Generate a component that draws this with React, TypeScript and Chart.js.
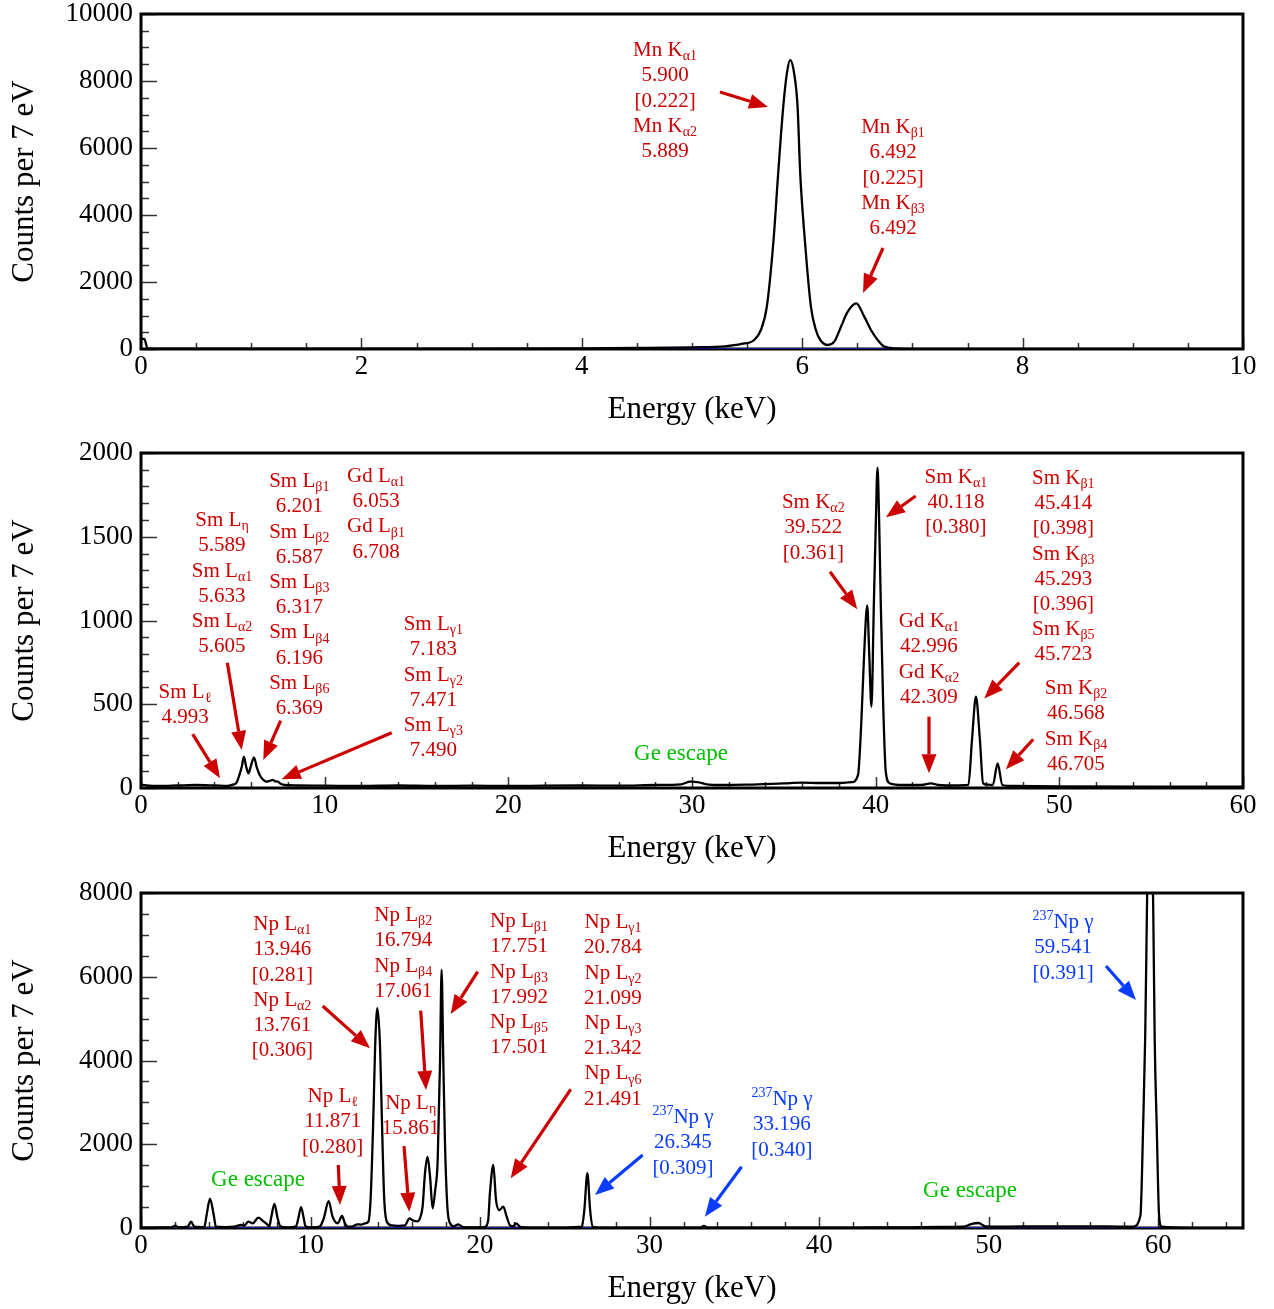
import React, { useEffect, useRef } from 'react';
import { Chart, registerables } from 'chart.js';
Chart.register(...registerables);

const RED = '#cc0000';
const BLUE = '#0a3cff';
const GREEN = '#00c000';
const FIT = '#1a1a8c';
const FONT = '"Liberation Serif", "Times New Roman", serif';

// ---------- Panel 1: Mn K lines ----------
const mnEnergy = [
  0, 0.03, 0.06, 0.5, 1, 2, 3, 4, 4.5, 5,
  5.3, 5.45, 5.564, 5.625, 5.679, 5.74, 5.782, 5.828, 5.861, 5.891,
  5.927, 5.958, 5.982, 6.024, 6.079, 6.124, 6.164, 6.231, 6.291, 6.352,
  6.413, 6.491, 6.563, 6.624, 6.685, 6.745, 6.85, 7, 8.5, 10,
];
const mnCounts = [
  300, 300, 15, 12, 10, 10, 12, 20, 30, 50,
  80, 150, 269, 567, 1264, 3254, 5244, 7234, 8229, 8627,
  8229, 7234, 5244, 3254, 1264, 567, 269, 120, 219, 666,
  1115, 1364, 965, 567, 269, 70, 15, 5, 5, 5,
];
const mnFitEnergy = [4.6, 6.8];
const mnFitCounts = [0, 0];

// ---------- Panel 2: Sm / Gd ----------
const smEnergy = [
  0, 0.3, 1, 2, 3, 4, 4.73, 5.0, 5.18, 5.36,
  5.49, 5.6, 5.72, 5.85, 5.98, 6.15, 6.3, 6.46, 6.65, 6.82,
  7.0, 7.18, 7.3, 7.45, 7.6, 7.82, 8.5, 10, 12, 14,
  16, 18, 20, 22, 24, 26, 28, 29.4, 29.9, 30.3,
  30.8, 31.5, 33, 35, 36, 37, 38, 38.7, 39.04, 39.22,
  39.37, 39.54, 39.65, 39.77, 39.9, 40.01, 40.1, 40.19, 40.28, 40.41,
  40.55, 40.77, 41.5, 42.5, 43.0, 43.4, 44.5, 45.05, 45.25, 45.46,
  45.67, 45.85, 46.1, 46.38, 46.64, 46.9, 47.5, 50, 55, 60,
];
const smCounts = [
  20, 15, 12, 15, 18, 15, 12, 20, 28, 78,
  128, 187, 130, 88, 130, 183, 125, 78, 50, 38,
  42, 48, 40, 38, 25, 18, 15, 14, 12, 15,
  12, 14, 12, 14, 15, 14, 18, 22, 38, 35,
  22, 18, 20, 28, 32, 30, 30, 35, 78, 396,
  794, 1090, 800, 485, 1093, 1590, 1912, 1590, 1093, 496,
  97, 28, 18, 18, 28, 18, 15, 18, 296, 545,
  296, 28, 20, 18, 147, 18, 12, 10, 8, 8,
];
const smFitEnergy: number[] = [];
const smFitCounts: number[] = [];

// ---------- Panel 3: Np L lines / 237Np gamma ----------
const npEnergy = [
  0, 1, 1.8, 2.03, 2.2, 2.75, 2.95, 3.15, 3.6, 3.74,
  3.87, 4.07, 4.29, 4.42, 5.0, 5.5, 5.9, 6.1, 6.33, 6.59,
  6.92, 7.24, 7.48, 7.57, 7.67, 7.87, 8.06, 8.22, 8.55, 9.14,
  9.28, 9.44, 9.6, 9.7, 10.0, 10.4, 10.6, 10.78, 11.07, 11.3,
  11.6, 11.86, 12.03, 12.2, 12.5, 12.76, 13.0, 13.2, 13.41, 13.55,
  13.71, 13.81, 13.94, 14.1, 14.2, 14.34, 14.5, 14.8, 15.2, 15.57,
  15.83, 16.06, 16.3, 16.45, 16.61, 16.75, 16.9, 17.05, 17.2, 17.35,
  17.5, 17.64, 17.73, 17.83, 17.93, 18.07, 18.23, 18.45, 18.72, 19.0,
  19.5, 20.0, 20.3, 20.48, 20.58, 20.78, 20.94, 21.14, 21.37, 21.57,
  21.77, 21.95, 22.12, 22.4, 23, 24, 25, 26.0, 26.15, 26.33,
  26.49, 26.65, 27, 29, 31, 33.0, 33.2, 33.4, 36, 40,
  43, 45, 47, 48.5, 49.0, 49.4, 49.8, 51, 53, 55,
  57, 58.5, 58.95, 59.11, 59.23, 59.33, 59.5, 59.71, 59.79, 59.91,
  60.05, 60.2, 62, 65,
];
const npCounts = [
  10, 12, 15, 56, 15, 30, 151, 30, 20, 30,
  310, 700, 310, 30, 20, 30, 72, 60, 151, 111,
  247, 151, 72, 40, 230, 573, 230, 40, 16, 40,
  230, 500, 230, 40, 16, 20, 60, 230, 640, 270,
  111, 286, 111, 32, 40, 88, 80, 111, 150, 748,
  2738, 4331, 5250, 4331, 2738, 748, 150, 60, 50, 60,
  231, 175, 160, 230, 509, 1313, 1700, 1226, 470, 900,
  1624, 4012, 6161, 4012, 2030, 509, 112, 40, 88, 20,
  15, 15, 30, 190, 828, 1504, 668, 430, 509, 270,
  60, 40, 112, 20, 10, 10, 10, 30, 430, 1310,
  430, 30, 10, 10, 10, 10, 50, 10, 8, 8,
  12, 15, 25, 30, 100, 120, 40, 35, 40, 40,
  40, 30, 300, 2445, 4540, 7475, 11500, 7475, 4540, 2445,
  300, 30, 5, 5,
];
const npFitEnergy = [0, 60];
const npFitCounts = [0, 0];

// ---------- Annotations (anchor in data coords: energy, counts) ----------
type Note = { e: number; c: number; lines: string[]; color?: string; size?: number; arrow?: number[] };

const mnNotes: Note[] = [
  { e: 4.755, c: 8955, lines: ['Mn K_{α1}', '5.900', '[0.222]', 'Mn K_{α2}', '5.889'], arrow: [5.254, 7672, 5.69, 7224] },
  { e: 6.824, c: 6657, lines: ['Mn K_{β1}', '6.492', '[0.225]', 'Mn K_{β3}', '6.492'], arrow: [6.733, 3015, 6.552, 1672] },
];

const smNotes: Note[] = [
  { e: 2.396, c: 579, lines: ['Sm L_{ℓ}', '4.993'], arrow: [2.815, 322, 4.301, 58] },
  { e: 4.41, c: 1606, lines: ['Sm L_{η}', '5.589', 'Sm L_{α1}', '5.633', 'Sm L_{α2}', '5.605'], arrow: [4.699, 748, 5.483, 227] },
  { e: 8.619, c: 1839, lines: ['Sm L_{β1}', '6.201', 'Sm L_{β2}', '6.587', 'Sm L_{β3}', '6.317', 'Sm L_{β4}', '6.196', 'Sm L_{β6}', '6.369'], arrow: [7.606, 402, 6.659, 167] },
  { e: 12.795, c: 1869, lines: ['Gd L_{α1}', '6.053', 'Gd L_{β1}', '6.708'] },
  { e: 15.914, c: 985, lines: ['Sm L_{γ1}', '7.183', 'Sm L_{γ2}', '7.471', 'Sm L_{γ3}', '7.490'], arrow: [13.65, 330, 7.66, 52] },
  { e: 29.4, c: 215, lines: ['Ge escape'], color: GREEN, size: 23 },
  { e: 36.604, c: 1713, lines: ['Sm K_{α2}', '39.522', '[0.361]'], arrow: [37.513, 1291, 39.0, 1067] },
  { e: 44.373, c: 1863, lines: ['Sm K_{α1}', '40.118', '[0.380]'], arrow: [42.18, 1743, 40.56, 1616] },
  { e: 42.903, c: 1003, lines: ['Gd K_{α1}', '42.996', 'Gd K_{α2}', '42.309'], arrow: [42.903, 426, 42.903, 88] },
  { e: 50.215, c: 1857, lines: ['Sm K_{β1}', '45.414', '[0.398]', 'Sm K_{β3}', '45.293', '[0.396]', 'Sm K_{β5}', '45.723'], arrow: [47.82, 748, 45.913, 535] },
  { e: 50.906, c: 603, lines: ['Sm K_{β2}', '46.568', 'Sm K_{β4}', '46.705'], arrow: [48.58, 291, 47.095, 112] },
];

const npNotes: Note[] = [
  { e: 8.334, c: 7284, lines: ['Np L_{α1}', '13.946', '[0.281]', 'Np L_{α2}', '13.761', '[0.306]'], arrow: [10.717, 5302, 13.507, 4291] },
  { e: 15.471, c: 7499, lines: ['Np L_{β2}', '16.794', 'Np L_{β4}', '17.061'], arrow: [16.498, 5189, 16.81, 3296] },
  { e: 22.296, c: 7355, lines: ['Np L_{β1}', '17.751', 'Np L_{β3}', '17.992', 'Np L_{β5}', '17.501'], arrow: [19.86, 6121, 18.267, 5111] },
  { e: 27.84, c: 7332, lines: ['Np L_{γ1}', '20.784', 'Np L_{γ2}', '21.099', 'Np L_{γ3}', '21.342', 'Np L_{γ6}', '21.491'], arrow: [25.345, 3312, 21.806, 1187] },
  { e: 11.307, c: 3176, lines: ['Np L_{ℓ}', '11.871', '[0.280]'], arrow: [11.637, 1504, 11.738, 549] },
  { e: 15.908, c: 3009, lines: ['Np L_{η}', '15.861'], arrow: [15.513, 1958, 15.825, 389] },
  { e: 6.901, c: 1194, lines: ['Ge escape'], color: GREEN, size: 23 },
  { e: 31.969, c: 2675, lines: ['^{237}Np γ', '26.345', '[0.309]'], color: BLUE, arrow: [29.592, 1743, 26.778, 788] },
  { e: 37.808, c: 3105, lines: ['^{237}Np γ', '33.196', '[0.340]'], color: BLUE, arrow: [35.425, 1464, 33.26, 270] },
  { e: 54.383, c: 7332, lines: ['^{237}Np γ', '59.541', '[0.391]'], color: BLUE, arrow: [56.919, 6257, 58.688, 5445] },
  { e: 48.897, c: 931, lines: ['Ge escape'], color: GREEN, size: 23 },
];

// ---------- drawing helpers ----------
type Seg = { t: string; k: 'n' | 'sub' | 'sup'; w?: number };
function parseRich(s: string): Seg[] {
  const out: Seg[] = [];
  const re = /([_^])\{([^}]*)\}/g;
  let last = 0;
  let m: RegExpExecArray | null;
  while ((m = re.exec(s))) {
    if (m.index > last) out.push({ t: s.slice(last, m.index), k: 'n' });
    out.push({ t: m[2], k: m[1] === '_' ? 'sub' : 'sup' });
    last = re.lastIndex;
  }
  if (last < s.length) out.push({ t: s.slice(last), k: 'n' });
  return out;
}

function drawRich(ctx: CanvasRenderingContext2D, s: string, cx: number, cy: number, color: string, size: number) {
  const segs = parseRich(s);
  const small = Math.round(size * 0.66);
  const fN = `${size}px ${FONT}`;
  const fS = `${small}px ${FONT}`;
  let w = 0;
  for (const g of segs) {
    ctx.font = g.k === 'n' ? fN : fS;
    g.w = ctx.measureText(g.t).width;
    w += g.w;
  }
  let x = cx - w / 2;
  const base = cy + size * 0.34;
  ctx.fillStyle = color;
  ctx.textAlign = 'left';
  ctx.textBaseline = 'alphabetic';
  for (const g of segs) {
    ctx.font = g.k === 'n' ? fN : fS;
    const dy = g.k === 'sub' ? size * 0.2 : g.k === 'sup' ? -size * 0.4 : 0;
    ctx.fillText(g.t, x, base + dy);
    x += g.w || 0;
  }
}

function drawArrow(ctx: CanvasRenderingContext2D, x1: number, y1: number, x2: number, y2: number, color: string) {
  const ang = Math.atan2(y2 - y1, x2 - x1);
  const L = 19;
  const W = 7.5;
  const bx = x2 - L * Math.cos(ang);
  const by = y2 - L * Math.sin(ang);
  ctx.strokeStyle = color;
  ctx.lineWidth = 3.2;
  ctx.lineCap = 'butt';
  ctx.beginPath();
  ctx.moveTo(x1, y1);
  ctx.lineTo(bx, by);
  ctx.stroke();
  ctx.fillStyle = color;
  ctx.beginPath();
  ctx.moveTo(x2, y2);
  ctx.lineTo(bx + W * Math.sin(ang), by - W * Math.cos(ang));
  ctx.lineTo(bx - W * Math.sin(ang), by + W * Math.cos(ang));
  ctx.closePath();
  ctx.fill();
}

const specPlugin = {
  id: 'spec',
  beforeDatasetsDraw(chart: any, _args: any, opts: any) {
    const { ctx, chartArea: a } = chart;
    const xs = chart.scales.x;
    const ys = chart.scales.y;
    ctx.save();
    ctx.strokeStyle = '#333';
    ctx.lineWidth = 1.5;
    const nx = Math.floor(opts.xMax / opts.xMinor + 1e-9);
    for (let i = 0; i <= nx; i++) {
      const v = i * opts.xMinor;
      const r = v / opts.xStep;
      const major = Math.abs(r - Math.round(r)) < 1e-6;
      const px = Math.round(xs.getPixelForValue(v)) + 0.5;
      ctx.beginPath();
      ctx.moveTo(px, a.bottom);
      ctx.lineTo(px, a.bottom - (major ? 11 : 6));
      ctx.stroke();
    }
    const ny = Math.floor(opts.yMax / opts.yMinor + 1e-9);
    for (let i = 0; i <= ny; i++) {
      const v = i * opts.yMinor;
      const r = v / opts.yStep;
      const major = Math.abs(r - Math.round(r)) < 1e-6;
      const py = Math.round(ys.getPixelForValue(v)) + 0.5;
      ctx.beginPath();
      ctx.moveTo(a.left, py);
      ctx.lineTo(a.left + (major ? 16 : 8), py);
      ctx.stroke();
    }
    ctx.strokeStyle = '#000';
    ctx.lineWidth = 3;
    ctx.strokeRect(a.left, a.top, a.right - a.left, a.bottom - a.top);
    ctx.restore();
  },
  afterDatasetsDraw(chart: any, _args: any, opts: any) {
    const { ctx } = chart;
    const xs = chart.scales.x;
    const ys = chart.scales.y;
    ctx.save();
    for (const n of opts.notes as Note[]) {
      const color = n.color || RED;
      const size = n.size || 21;
      const cx = xs.getPixelForValue(n.e);
      const cy = ys.getPixelForValue(n.c);
      n.lines.forEach((ln, i) => drawRich(ctx, ln, cx, cy + i * 25.2, color, size));
      if (n.arrow) {
        const [e1, c1, e2, c2] = n.arrow;
        drawArrow(ctx, xs.getPixelForValue(e1), ys.getPixelForValue(c1), xs.getPixelForValue(e2), ys.getPixelForValue(c2), color);
      }
    }
    ctx.restore();
  },
};

type PanelCfg = {
  top: number;
  energy: number[];
  counts: number[];
  fitE: number[];
  fitC: number[];
  xMax: number;
  xStep: number;
  xMinor: number;
  yMax: number;
  yStep: number;
  yMinor: number;
  notes: Note[];
};

const panels: PanelCfg[] = [
  { top: 0, energy: mnEnergy, counts: mnCounts, fitE: mnFitEnergy, fitC: mnFitCounts, xMax: 10, xStep: 2, xMinor: 0.5, yMax: 10000, yStep: 2000, yMinor: 500, notes: mnNotes },
  { top: 439, energy: smEnergy, counts: smCounts, fitE: smFitEnergy, fitC: smFitCounts, xMax: 60, xStep: 10, xMinor: 2, yMax: 2000, yStep: 500, yMinor: 100, notes: smNotes },
  { top: 879, energy: npEnergy, counts: npCounts, fitE: npFitEnergy, fitC: npFitCounts, xMax: 65, xStep: 10, xMinor: 2, yMax: 8000, yStep: 2000, yMinor: 500, notes: npNotes },
];

const CW = 1274;
const CH = 430;

function makeConfig(p: PanelCfg): any {
  return {
    type: 'line',
    data: {
      datasets: [
        {
          data: p.energy.map((e, i) => ({ x: e, y: p.counts[i] })),
          borderColor: '#000',
          borderWidth: 2.3,
          pointRadius: 0,
          cubicInterpolationMode: 'monotone',
          fill: false,
        },
        {
          data: p.fitE.map((e, i) => ({ x: e, y: p.fitC[i] })),
          borderColor: FIT,
          borderWidth: 2,
          pointRadius: 0,
          tension: 0,
          fill: false,
        },
      ],
    },
    options: {
      responsive: false,
      animation: false,
      devicePixelRatio: 1,
      events: [],
      layout: { padding: { top: 14, right: 31, left: 0, bottom: 0 } },
      plugins: {
        legend: { display: false },
        tooltip: { enabled: false },
        spec: { xMax: p.xMax, xStep: p.xStep, xMinor: p.xMinor, yMax: p.yMax, yStep: p.yStep, yMinor: p.yMinor, notes: p.notes },
      },
      scales: {
        x: {
          type: 'linear',
          min: 0,
          max: p.xMax,
          afterFit: (s: any) => {
            s.height = CH - 349;
            s.paddingLeft = 0;
            s.paddingRight = 0;
          },
          afterBuildTicks: (s: any) => {
            s.ticks = s.ticks.filter((t: any) => Math.abs(t.value / p.xStep - Math.round(t.value / p.xStep)) < 1e-6);
          },
          grid: { display: false, drawTicks: false },
          border: { display: false },
          ticks: {
            stepSize: p.xStep,
            includeBounds: false,
            autoSkip: false,
            maxRotation: 0,
            padding: 2,
            color: '#000',
            font: { family: FONT, size: 27 },
            callback: (v: any) => String(v),
          },
          title: {
            display: true,
            text: 'Energy (keV)',
            color: '#000',
            font: { family: FONT, size: 31 },
            padding: { top: 0, bottom: 2 },
          },
        },
        y: {
          type: 'linear',
          min: 0,
          max: p.yMax,
          afterFit: (s: any) => {
            s.width = 141;
            s.paddingTop = 0;
            s.paddingBottom = 0;
          },
          grid: { display: false, drawTicks: false },
          border: { display: false },
          ticks: {
            stepSize: p.yStep,
            autoSkip: false,
            padding: 8,
            color: '#000',
            font: { family: FONT, size: 27 },
            callback: (v: any) => String(v),
          },
          title: {
            display: true,
            text: 'Counts per 7 eV',
            color: '#000',
            font: { family: FONT, size: 31 },
            padding: { top: 6, bottom: 0 },
          },
        },
      },
    },
    plugins: [specPlugin],
  };
}

function Panel({ cfg }: { cfg: PanelCfg }) {
  const ref = useRef<HTMLCanvasElement>(null);
  useEffect(() => {
    if (!ref.current) return;
    const chart = new Chart(ref.current, makeConfig(cfg));
    return () => chart.destroy();
  }, [cfg]);
  return (
    <canvas
      ref={ref}
      width={CW}
      height={CH}
      style={{ position: 'absolute', left: 0, top: cfg.top, width: CW, height: CH }}
    />
  );
}

export default function App() {
  return (
    <div style={{ position: 'absolute', left: 0, top: 0, width: CW, height: 1309, background: '#fff', overflow: 'hidden' }}>
      {panels.map((p, i) => (
        <Panel key={i} cfg={p} />
      ))}
    </div>
  );
}
